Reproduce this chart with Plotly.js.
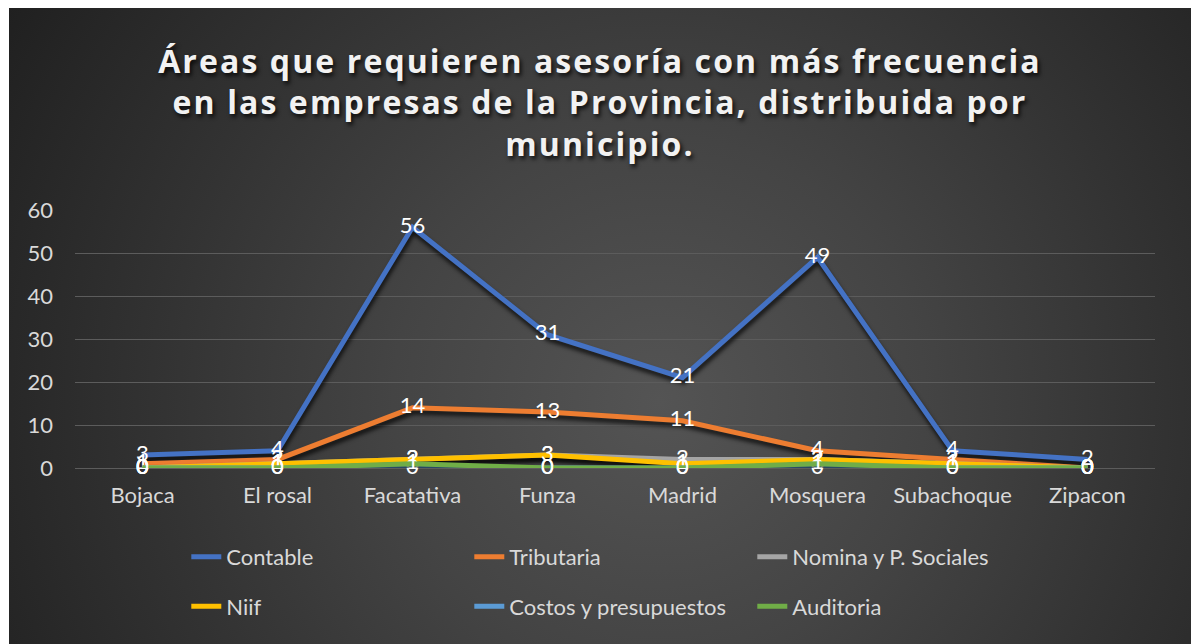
<!DOCTYPE html>
<html>
<head>
<meta charset="utf-8">
<script src="https://cdn.plot.ly/plotly-3.0.1.min.js"></script>
<style>
  html, body { margin: 0; padding: 0; background: #ffffff; }
  #panel {
    position: absolute; left: 9px; top: 8px; width: 1182px; height: 636px;
    background: radial-gradient(circle at 55% 62%, #545454 0%, #444444 35%, #333333 65%, #202020 100%);
  }
  #chart { width: 1182px; height: 636px; }
  .gtitle { letter-spacing: 2.1px; }
  .scatterlayer .js-line { filter: drop-shadow(1px 4px 2px rgba(0,0,0,0.75)); }
</style>
</head>
<body>
<div id="panel"><div id="chart"></div></div>
<script>
// municipios
var municipios = ["Bojaca", "El rosal", "Facatativa", "Funza", "Madrid", "Mosquera", "Subachoque", "Zipacon"];

// areas por municipio
var contable   = [3, 4, 56, 31, 21, 49, 4, 2];
var tributaria = [1, 2, 14, 13, 11, 4, 2, 0];
var nomina     = [0, 1, 2, 3, 2, 2, 1, 0];
var niif       = [0, 1, 2, 3, 1, 2, 1, 0];
var costos     = [0, 0, 0, 0, 0, 0, 0, 0];
var auditoria  = [0, 0, 1, 0, 0, 1, 0, 0];

var yTicks = [0, 10, 20, 30, 40, 50, 60];

var fuente = "Lato, 'Open Sans', sans-serif";

function serie(nombre, valores, color, leyenda) {
  return {
    x: municipios,
    y: valores,
    name: nombre,
    type: "scatter",
    mode: "lines+text",
    text: valores.map(String),
    textposition: "middle center",
    textfont: { family: fuente, size: 22, color: "#ffffff" },
    line: { color: color, width: 5 },
    cliponaxis: false,
    legend: leyenda
  };
}

var data = [
  serie("Contable", contable, "#4472C4", "legend"),
  serie("Tributaria", tributaria, "#ED7D31", "legend"),
  serie("Nomina y P. Sociales", nomina, "#A5A5A5", "legend"),
  serie("Niif", niif, "#FFC000", "legend2"),
  serie("Costos y presupuestos", costos, "#5B9BD5", "legend2"),
  serie("Auditoria", auditoria, "#70AD47", "legend2")
];

var legendFont = { family: fuente, size: 22, color: "#d9d9d9" };

var layout = {
  width: 1182,
  height: 636,
  paper_bgcolor: "rgba(0,0,0,0)",
  plot_bgcolor: "rgba(0,0,0,0)",
  margin: { l: 66, r: 36, t: 202, b: 176 },
  title: {
    text: "<b>Áreas que requieren asesoría con más frecuencia<br>en las empresas de la Provincia, distribuida por<br>municipio.</b>",
    font: { family: "'Open Sans', sans-serif", size: 32, color: "#f2f2f2", shadow: "2px 3px 4px rgba(0,0,0,0.8)" },
    x: 0.5,
    xanchor: "center",
    yref: "container",
    y: 0.898,
    yanchor: "top"
  },
  xaxis: {
    type: "category",
    range: [-0.5, 7.5],
    showgrid: false,
    zeroline: false,
    showline: false,
    ticks: "",
    ticklabelstandoff: 12,
    tickfont: { family: fuente, size: 22, color: "#d9d9d9" },
    fixedrange: true
  },
  yaxis: {
    range: [0, 60],
    tickvals: yTicks,
    ticktext: yTicks.map(String),
    showgrid: true,
    gridcolor: "#5c5c5c",
    gridwidth: 1,
    zeroline: true,
    zerolinecolor: "#5c5c5c",
    zerolinewidth: 1,
    showline: false,
    ticks: "",
    ticklabelstandoff: 21,
    tickfont: { family: fuente, size: 22, color: "#d9d9d9" },
    fixedrange: true
  },
  showlegend: true,
  legend: {
    orientation: "h",
    xref: "container",
    yref: "container",
    x: 0.150,
    xanchor: "left",
    y: 0.137,
    yanchor: "middle",
    entrywidth: 238,
    entrywidthmode: "pixels",
    font: legendFont,
    bgcolor: "rgba(0,0,0,0)"
  },
  legend2: {
    orientation: "h",
    xref: "container",
    yref: "container",
    x: 0.150,
    xanchor: "left",
    y: 0.059,
    yanchor: "middle",
    entrywidth: 238,
    entrywidthmode: "pixels",
    font: legendFont,
    bgcolor: "rgba(0,0,0,0)"
  }
};

Plotly.newPlot("chart", data, layout, { displayModeBar: false, staticPlot: true });
</script>
</body>
</html>
